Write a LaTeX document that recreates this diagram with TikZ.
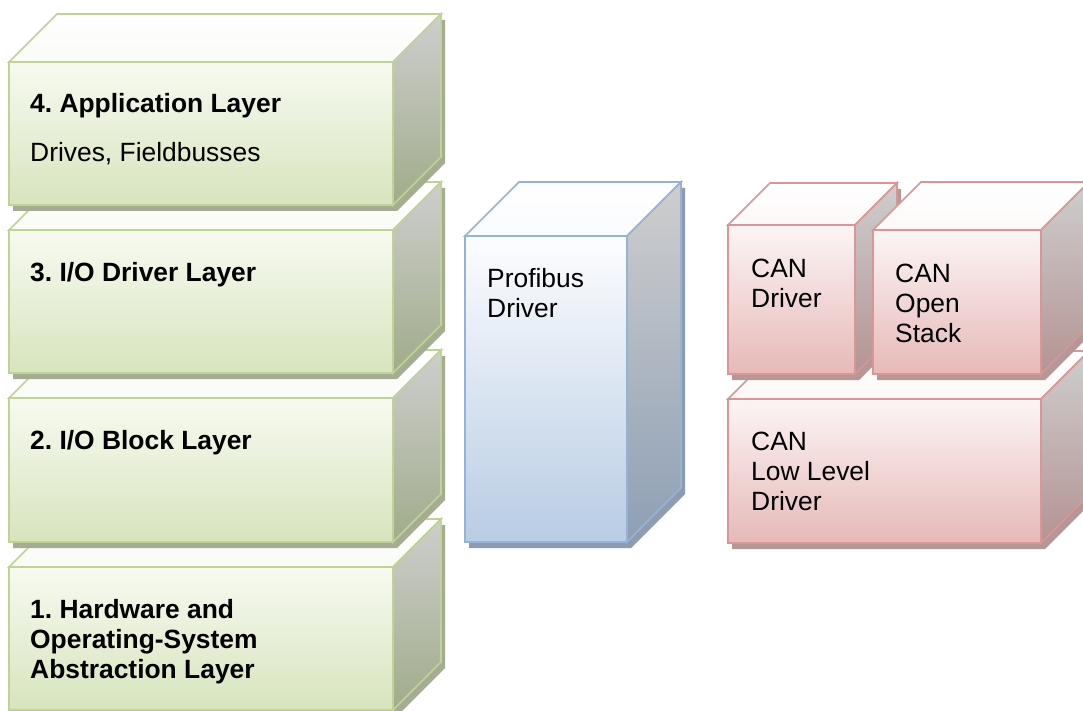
\documentclass[tikz,border=0pt]{standalone}
\usepackage{fontspec}
\setmainfont{Liberation Sans}
\usetikzlibrary{calc}
\frenchspacing

% palette: green layer stack
\definecolor{greenline}{HTML}{BFD494}
\definecolor{greenfronttop}{HTML}{F7FAF1}
\definecolor{greenfrontbot}{HTML}{D7E4BD}
\definecolor{greentopface}{HTML}{F9FBF5}
\definecolor{greenside}{HTML}{A0AC8A}
\definecolor{greenshadow}{HTML}{A4AD93}
% palette: blue profibus column
\definecolor{blueline}{HTML}{95B3D7}
\definecolor{bluefronttop}{HTML}{FCFDFF}
\definecolor{bluefrontbot}{HTML}{B8CCE4}
\definecolor{bluetopface}{HTML}{FAFBFD}
\definecolor{blueside}{HTML}{8E9FB5}
\definecolor{blueshadow}{HTML}{8C9BB0}
% palette: red CAN blocks
\definecolor{redline}{HTML}{D99694}
\definecolor{redfronttop}{HTML}{FCF5F5}
\definecolor{redfrontbot}{HTML}{E6B9B8}
\definecolor{redtopface}{HTML}{FDF8F8}
\definecolor{redside}{HTML}{B59393}
\definecolor{redshadow}{HTML}{B59797}
\definecolor{sidetop}{HTML}{CECECE}

\tikzset{
  greenedge/.style={draw=greenline, line width=1.6pt, line join=miter},
  blueedge/.style={draw=blueline, line width=1.6pt, line join=miter},
  rededge/.style={draw=redline, line width=1.6pt, line join=miter},
  % multi-line labels are anchored on the baseline of their last line
  lbl/.style={anchor=base west, inner sep=0pt, align=left,
    font=\fontsize{26.4}{30}\selectfont},
  boldlbl/.style={lbl, font=\fontsize{26.4}{30}\selectfont\bfseries},
}

% 3-D block: #1 palette, #2 left, #3 top, #4 right, #5 bottom, #6 depth, #7 name
\newcommand{\layerbox}[7]{%
  \fill[#1shadow] ({#2+4},{#5+6}) -- ({#2+4},{#3+6}) -- ({#2+#6+4},{#3-#6+6})
    -- ({#4+#6+4},{#3-#6+6}) -- ({#4+#6+4},{#5-#6+6}) -- ({#4+4},{#5+6}) -- cycle;
  \path[#1edge, top color=white, bottom color=#1topface]
    (#2,#3) -- ({#2+#6},{#3-#6}) -- ({#4+#6},{#3-#6}) -- (#4,#3) -- cycle;
  \path[#1edge, top color=sidetop, bottom color=#1side]
    (#4,#3) -- ({#4+#6},{#3-#6}) -- ({#4+#6},{#5-#6}) -- (#4,#5) -- cycle;
  \path[#1edge, top color=#1fronttop, bottom color=#1frontbot]
    (#2,#3) rectangle (#4,#5);
  \coordinate (#7) at (#2,#3);
}

\begin{document}
\begin{tikzpicture}[x=1pt, y=-1pt]
  \useasboundingbox[fill=white] (0,0) rectangle (1083,711);

  % layer stack, drawn bottom-up so each block covers the top face below it
  \layerbox{green}{9}{567}{393}{710}{48}{l1}
  \layerbox{green}{9}{398}{393}{542}{48}{l2}
  \layerbox{green}{9}{230}{393}{373}{48}{l3}
  \layerbox{green}{9}{62}{393}{205}{48}{l4}

  \node[boldlbl] (t4) at ($(l4)+(21,51)$) {4. Application Layer};
  \node[lbl] (t4s) at ($(l4)+(21,100)$) {Drives, Fieldbusses};
  \node[boldlbl] (t3) at ($(l3)+(21,51)$) {3. I/O Driver Layer};
  \node[boldlbl] (t2) at ($(l2)+(21,51)$) {2. I/O Block Layer};
  \node[boldlbl] (t1) at ($(l1)+(21,111)$) {1. Hardware and\\Operating-System\\Abstraction Layer};

  % profibus column
  \layerbox{blue}{465}{236}{627}{542}{54}{pb}
  \node[lbl] (tpb) at ($(pb)+(22,81)$) {Profibus\\Driver};

  % CAN blocks
  \layerbox{red}{728}{399}{1041}{543}{48}{cl}
  \layerbox{red}{728}{225}{855}{374}{42}{cd}
  \layerbox{red}{873}{230}{1041}{374}{48}{co}
  \node[lbl] (tcl) at ($(cl)+(23,111)$) {CAN\\Low Level\\Driver};
  \node[lbl] (tcd) at ($(cd)+(23,82)$) {CAN\\Driver};
  \node[lbl] (tco) at ($(co)+(22,112)$) {CAN\\Open\\Stack};
\end{tikzpicture}
\end{document}
